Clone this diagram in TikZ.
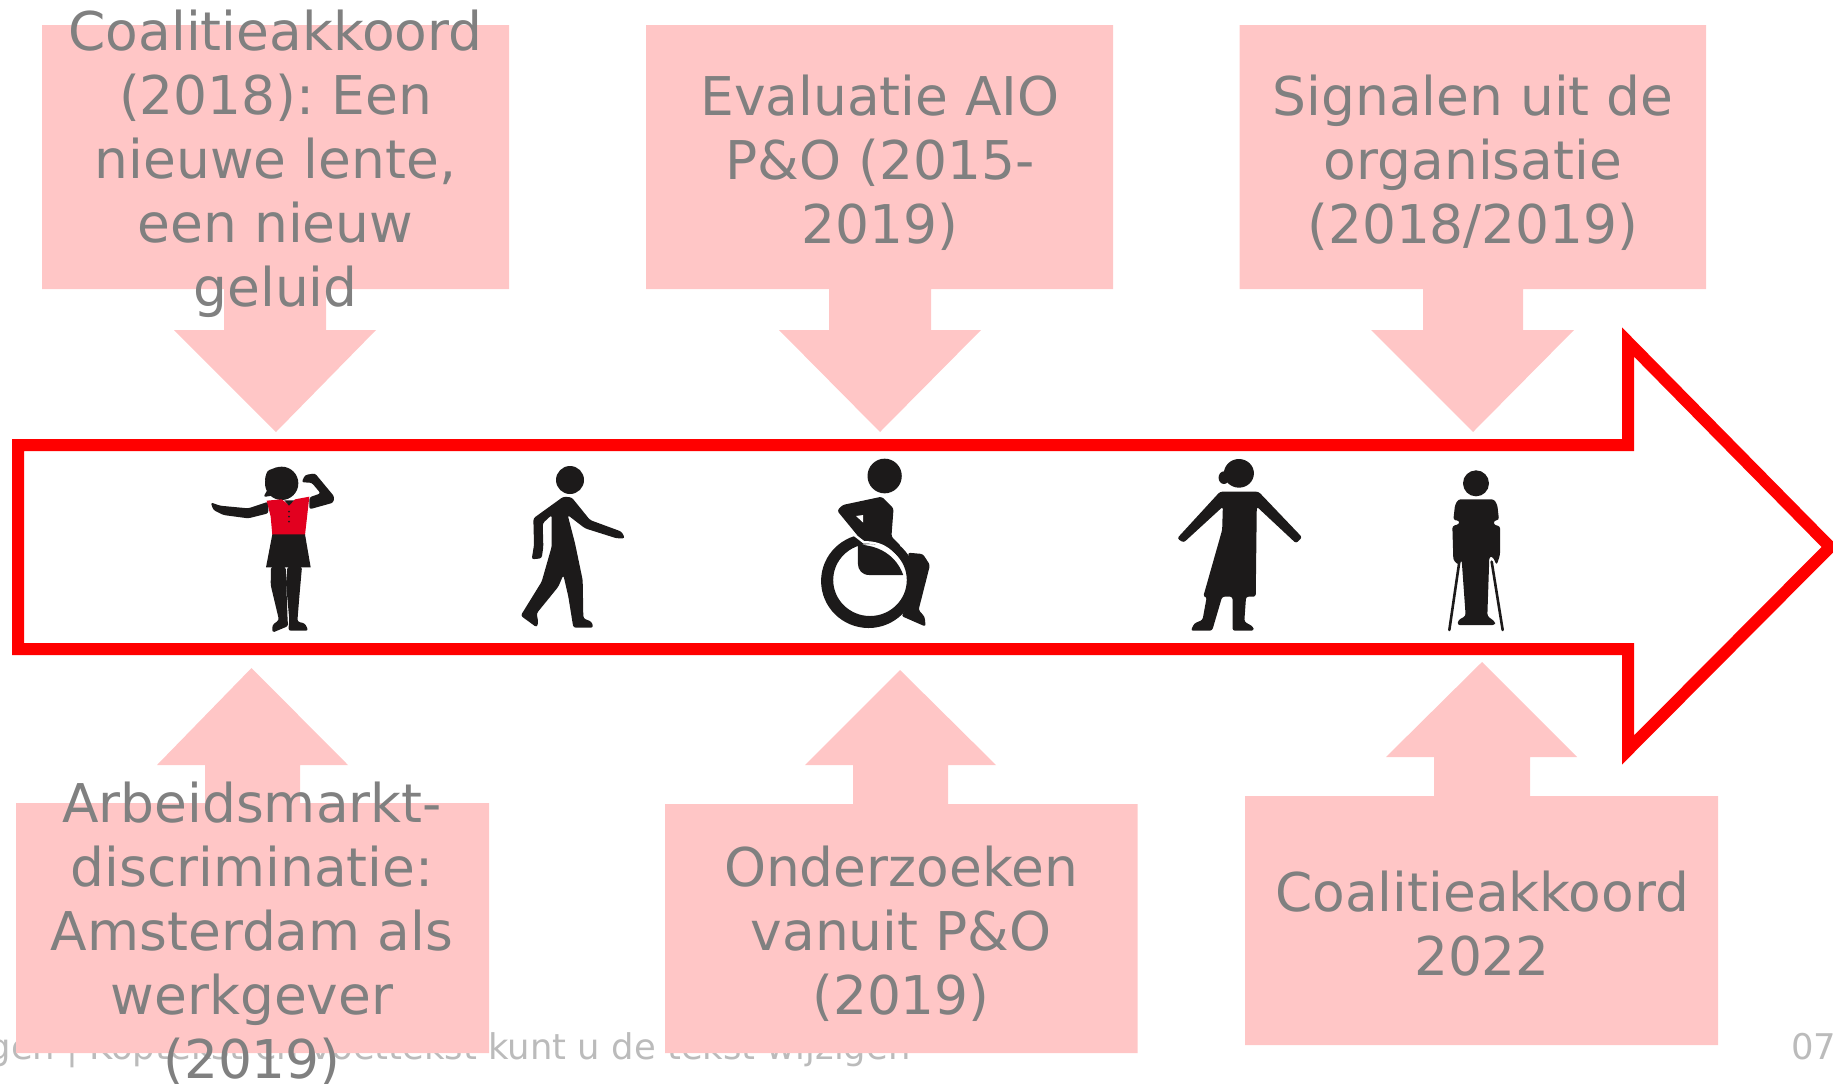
\documentclass[tikz,border=0pt]{standalone}
\usepackage{fontspec}
\setmainfont{DejaVu Sans}
\usepackage{tikz}
\usetikzlibrary{positioning, calc}
\definecolor{blockpink}{HTML}{FFC6C6}
\definecolor{labelgray}{HTML}{808080}
\definecolor{footgray}{HTML}{BBBBBB}
\definecolor{figblack}{HTML}{1C1A1A}
\definecolor{vestred}{HTML}{E2001F}

\begin{document}
\frenchspacing
\begin{tikzpicture}[x=0.5pt,y=-0.5pt]
	\def \boxtop{25}
	\def \boxlow{289}
	\def \neckup{330}
	\def \tipup{432}

	\tikzstyle{block}=[fill=blockpink]
	\tikzstyle{blocklabel}=[text=labelgray,align=center,inner sep=0pt,font=\fontsize{26.7}{32}\selectfont]
	\tikzstyle{foot}=[text=footgray,inner sep=0pt,font=\fontsize{17.7}{21}\selectfont]
	\tikzstyle{fig}=[fill=figblack,rounded corners=1.2pt]
	\tikzstyle{zoomthree}=[x=0.16667pt,y=-0.16667pt]
	\tikzstyle{zoomtwo}=[x=0.17857pt,y=-0.16667pt]

	\useasboundingbox (0,0) rectangle (1833,1083);

	% footer, under the blocks
	\node[foot,anchor=base east] (footer) at (911,1059) {gen | Koptekst en voettekst kunt u de tekst wijzigen};
	\node[foot,anchor=base west] (pagenr) at (1791,1059) {07};

	% upper blocks
	\fill[block] (42,\boxtop) -- (509,\boxtop) -- (509,\boxlow) -- (326,\boxlow) -- (326,\neckup) -- (376,\neckup)
		-- (276,\tipup) -- (174,\neckup) -- (224,\neckup) -- (224,\boxlow) -- (42,\boxlow) -- cycle;
	\fill[block] (646,\boxtop) -- (1113,\boxtop) -- (1113,\boxlow) -- (931,\boxlow) -- (931,\neckup) -- (981,\neckup)
		-- (880,\tipup) -- (779,\neckup) -- (829,\neckup) -- (829,\boxlow) -- (646,\boxlow) -- cycle;
	\fill[block] (1239.5,\boxtop) -- (1706,\boxtop) -- (1706,\boxlow) -- (1523,\boxlow) -- (1523,\neckup) -- (1574,\neckup)
		-- (1473,\tipup) -- (1371,\neckup) -- (1423,\neckup) -- (1423,\boxlow) -- (1239.5,\boxlow) -- cycle;

	% lower blocks
	\fill[block] (16,803) -- (205,803) -- (205,765) -- (157,765) -- (251.5,668) -- (348,765) -- (300,765)
		-- (300,803) -- (489,803) -- (489,1053) -- (16,1053) -- cycle;
	\fill[block] (665,804) -- (853,804) -- (853,765) -- (805,765) -- (900,670) -- (996,765) -- (948,765)
		-- (948,804) -- (1137.5,804) -- (1137.5,1053) -- (665,1053) -- cycle;
	\fill[block] (1245,796) -- (1434,796) -- (1434,757) -- (1386,757) -- (1482,662) -- (1577,757) -- (1530,757)
		-- (1530,796) -- (1718,796) -- (1718,1045) -- (1245,1045) -- cycle;

	% labels
	\node[blocklabel] (regeer) at (275.5,164) {Coalitieakkoord\\(2018): Een\\nieuwe lente,\\een nieuw\\geluid};
	\node[blocklabel] (evaluatie) at (880,163) {Evaluatie AIO\\P\&O (2015-\\2019)};
	\node[blocklabel] (signalen) at (1473,163) {Signalen uit de\\organisatie\\(2018/2019)};
	\node[blocklabel] (arbeid) at (252,934) {Arbeidsmarkt-\\discriminatie:\\Amsterdam als\\werkgever\\(2019)};
	\node[blocklabel] (onderzoek) at (901,934) {Onderzoeken\\vanuit P\&O\\(2019)};
	\node[blocklabel] (akkoord) at (1482,924) {Coalitieakkoord\\2022};

	% big arrow
	\draw[red,line width=6pt,miter limit=10] (18,445) -- (1628,445) -- (1628,342) -- (1830,547) -- (1628,750) -- (1628,649) -- (18,649) -- cycle;

	% woman with vest
	\begin{scope}[shift={(180,440)},zoomthree]
		\fill[figblack] (305,130) circle [radius=50];
		\fill[fig] (262,92) -- (295,80) -- (305,120) -- (290,165) -- (250,171) -- (265,145) -- (254,118) -- cycle;
		\fill[fig] (388,172) -- (422,160) -- (395,128) -- (365,127) -- (375,105) -- (405,100) -- (463,170) -- (460,188) -- (388,208) -- cycle;
		\fill[fig] (265,185) -- (205,205) -- (120,197) -- (92,187) -- (100,210) -- (130,225) -- (205,235) -- (265,220) -- cycle;
		\fill[fill=vestred] (260,182) -- (305,178) -- (327,195) -- (345,178) -- (388,170) -- (375,285) -- (277,285) -- (272,230) -- cycle;
		\fill[figblack] (313,181) -- (342,181) -- (327,197) -- cycle;
		\fill[figblack] (327,215) circle [radius=3] (327,230) circle [radius=3] (327,245) circle [radius=3];
		\fill[figblack] (277,283) -- (375,283) -- (392,382) -- (258,382) -- cycle;
		\fill[fig] (273,380) -- (317,380) -- (323,545) -- (325,558) -- (277,578) -- (277,555) -- (297,540) -- (272,435) -- cycle;
		\fill[fig] (322,380) -- (366,380) -- (358,470) -- (352,545) -- (375,550) -- (385,572) -- (325,572) -- (328,540) -- (318,430) -- cycle;
	\end{scope}

	% walking man
	\begin{scope}[shift={(180,440)},zoomthree]
		\fill[figblack] (1170,120) circle [radius=42];
		\fill[fig] (1150,170) -- (1060,235) -- (1062,315) -- (1055,358) -- (1085,355) -- (1090,320) -- (1088,250) -- (1115,225)
			-- (1115,320) -- (1095,390) -- (1085,425) -- (1022,527) -- (1070,562) -- (1075,548) -- (1070,520) -- (1135,440) -- (1150,405)
			-- (1165,470) -- (1180,563) -- (1240,563) -- (1235,545) -- (1210,535) -- (1208,420) -- (1185,310) -- (1163,225)
			-- (1215,265) -- (1310,295) -- (1335,295) -- (1325,275) -- (1230,240) -- (1175,172) -- cycle;
	\end{scope}

	% wheelchair
	\begin{scope}[shift={(780,440)},zoomtwo]
		\fill[figblack] (293,108) ellipse [x radius=48,y radius=52];
		\fill[figblack,even odd rule] (248,423) ellipse [x radius=133,y radius=141] (252,420) ellipse [x radius=103,y radius=108];
		\fill[fig] (160,212) -- (175,195) -- (285,170) -- (318,205) -- (312,290) -- (340,320) -- (235,310) -- cycle;
		\fill[fig] (358,338) -- (400,342) -- (420,375) -- (388,510) -- (405,530) -- (408,560) -- (340,528) -- (362,490) -- (375,420) -- cycle;
		\fill[white] (213,228) -- (233,225) -- (233,248) -- cycle;
		\draw[white,line width=1.2pt] (200,278) -- (235,307) .. controls (295,305) and (335,345) .. (349,408);
		\fill[figblack] (218,314) .. controls (275,315) and (325,345) .. (345,405) -- (250,405) .. controls (230,405) and (218,390) .. (218,370) -- cycle;
	\end{scope}

	% woman with dress
	\begin{scope}[shift={(780,440)},zoomtwo]
		\fill[figblack] (1285,100) ellipse [x radius=42,y radius=43];
		\fill[figblack] (1243,113) ellipse [x radius=15,y radius=19];
		\fill[fig] (1232,155) -- (1340,155) -- (1462,292) -- (1445,310) -- (1335,200) -- (1332,470) -- (1305,470) -- (1300,545)
			-- (1325,560) -- (1327,572) -- (1267,572) -- (1267,470) -- (1238,470) -- (1210,572) -- (1150,572) -- (1160,550) -- (1183,540)
			-- (1195,470) -- (1185,470) -- (1238,270) -- (1240,200) -- (1130,308) -- (1112,295) -- cycle;
	\end{scope}

	% man with crutches
	\begin{scope}[shift={(1400,440)},zoomthree]
		\fill[figblack] (228,130) circle [radius=39];
		\fill[fig] (175,178) -- (282,178) -- (292,195) -- (297,240) -- (281,242) -- (282,255) -- (300,258) -- (300,345) -- (290,375) -- (278,350)
			-- (268,350) -- (262,528) -- (285,545) -- (285,555) -- (172,555) -- (175,540) -- (197,528) -- (185,360) -- (175,375) -- (160,360)
			-- (157,258) -- (178,252) -- (178,242) -- (160,240) -- (165,195) -- cycle;
		\draw[figblack,line width=1.3pt,line cap=round] (178,365) -- (148,570) (275,365) -- (308,570);
	\end{scope}
\end{tikzpicture}
\end{document}
